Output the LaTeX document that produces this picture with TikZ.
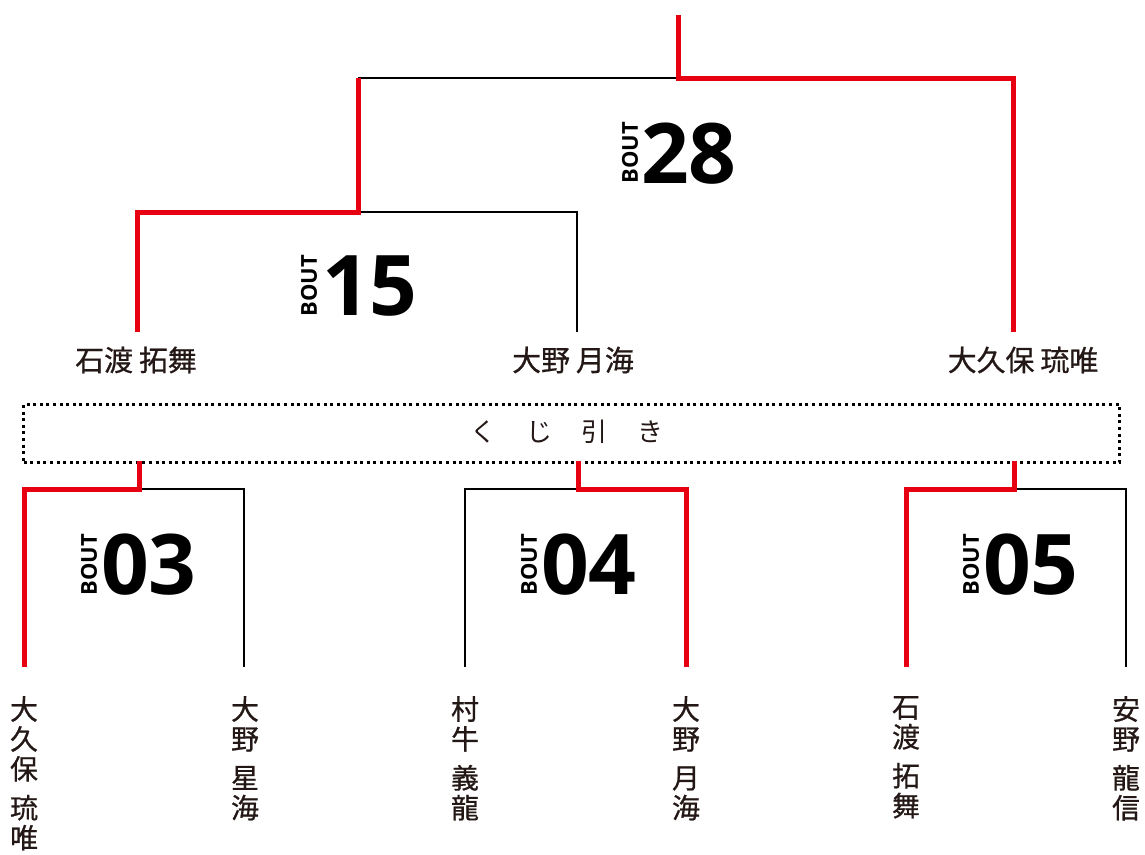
\documentclass[tikz,border=0pt]{standalone}
\usepackage{fontspec}
\setmainfont{Noto Sans CJK JP}
\newfontfamily\namefont{Noto Sans CJK JP}[FakeBold=0.7]
\newfontfamily\numfont{Open Sans}
\definecolor{bred}{RGB}{230,0,18}
\definecolor{ink}{RGB}{35,24,21}
\tikzset{
  win/.style={draw=bred,line width=5bp},
  lose/.style={draw=black,line width=2bp},
  hname/.style={font=\namefont\fontsize{29}{30}\selectfont,text=ink,inner sep=0pt},
  vname/.style={font=\namefont\fontsize{28}{30}\selectfont,text=ink,inner sep=0pt,align=center,anchor=north},
  boutnum/.style={font=\numfont\bfseries\fontsize{84}{84}\selectfont,inner sep=0pt,anchor=west},
  boutlbl/.style={font=\numfont\bfseries\fontsize{22}{22}\selectfont,inner sep=0pt,rotate=90},
  lotbox/.style={draw=black,line width=3bp,dash pattern=on 3bp off 3.6bp}
}
\begin{document}
\begin{tikzpicture}[x=1bp,y=-1bp]
\useasboundingbox (0,0) rectangle (1145,855);
% ---- junction coordinates
\coordinate (top) at (678,15);
\coordinate (f) at (678,78);
\coordinate (fl) at (358,78);
\coordinate (fr) at (1013,78);
\coordinate (sl) at (137,212);
\coordinate (sr) at (577,212);
\coordinate (s) at (358,212);
\coordinate (a1) at (137,332);
\coordinate (a2) at (577,332);
\coordinate (a3) at (1013,332);
% ---- lottery box
\node[lotbox,minimum width=1096bp,minimum height=58bp,inner sep=0pt,anchor=north west] (box) at (22,403) {};
\node[font=\fontsize{26}{26}\selectfont,text=ink,inner sep=0pt] (lot) at (567,432) {く\hspace{30bp}じ\hspace{30bp}引\hspace{30bp}き};
% ---- bottom bouts
\coordinate (b3) at (139,461);
\coordinate (b3j) at (139,489);
\coordinate (b3l) at (24,489);
\coordinate (b3r) at (244,489);
\coordinate (p1) at (24,667);
\coordinate (p2) at (244,667);
\coordinate (b4) at (578,461);
\coordinate (b4j) at (578,489);
\coordinate (b4l) at (465,489);
\coordinate (b4r) at (686,489);
\coordinate (p3) at (465,667);
\coordinate (p4) at (686,667);
\coordinate (b5) at (1014,461);
\coordinate (b5j) at (1014,489);
\coordinate (b5l) at (906,489);
\coordinate (b5r) at (1126,489);
\coordinate (p5) at (906,667);
\coordinate (p6) at (1126,667);
% lines: losers first
\draw[lose] (fl) -- (f);
\draw[lose] (s) -- (sr) -- (a2);
\draw[lose] (b3j) -- (b3r) -- (p2);
\draw[lose] (b4j) -- (b4l) -- (p3);
\draw[lose] (b5j) -- (b5r) -- (p6);
% winners
\draw[win] (top) -- (f) -- (fr) -- (a3);
\draw[win] (fl) -- (s) -- (sl) -- (a1);
\draw[win] (b3) -- (b3j) -- (b3l) -- (p1);
\draw[win] (b4) -- (b4j) -- (b4r) -- (p4);
\draw[win] (b5) -- (b5j) -- (b5l) -- (p5);
% ---- bout labels
\node[boutnum] (n28) at (641,154) {28};
\node[boutlbl] (l28) at (630,153) {BOUT};
\node[boutnum] (n15) at (322,286) {15};
\node[boutlbl] (l15) at (309,286) {BOUT};
\node[boutnum] (n03) at (101,565) {03};
\node[boutlbl] (l03) at (89,565) {BOUT};
\node[boutnum] (n04) at (541,565) {04};
\node[boutlbl] (l04) at (529,565) {BOUT};
\node[boutnum] (n05) at (983,565) {05};
\node[boutlbl] (l05) at (971,565) {BOUT};
% ---- names (upper)
\node[hname] (m1) at (136,360) {石渡\hspace{6bp}拓舞};
\node[hname] (m2) at (573,360) {大野\hspace{6bp}月海};
\node[hname] (m3) at (1023,360) {大久保\hspace{6bp}琉唯};
% ---- names (vertical)
\node[vname] (v1) at (24,696) {大\\久\\保\\[9bp]琉\\唯};
\node[vname] (v2) at (245,696) {大\\野\\[9bp]星\\海};
\node[vname] (v3) at (465,696) {村\\牛\\[9bp]義\\龍};
\node[vname] (v4) at (686,696) {大\\野\\[9bp]月\\海};
\node[vname] (v5) at (906,696) {石\\渡\\[9bp]拓\\舞};
\node[vname] (v6) at (1126,696) {安\\野\\[9bp]龍\\信};
\end{tikzpicture}
\end{document}
